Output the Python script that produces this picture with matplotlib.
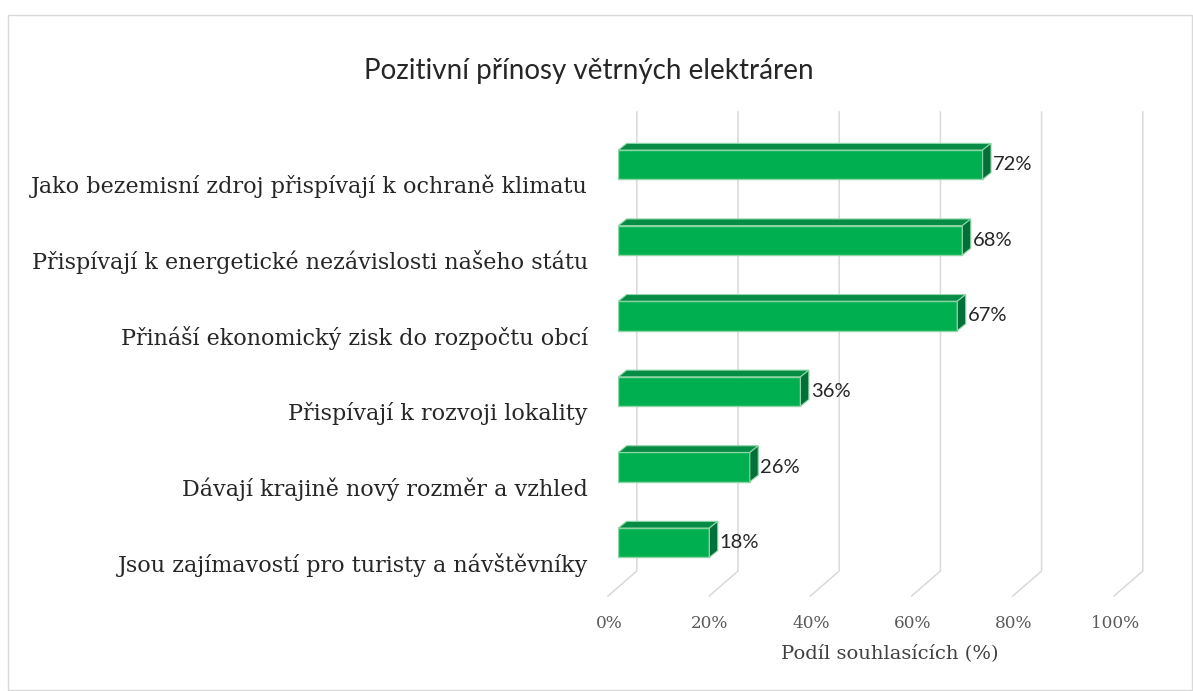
import matplotlib
matplotlib.use("Agg")
import matplotlib.pyplot as plt
from matplotlib.patches import Polygon, Rectangle

# ---------------- data ----------------
categories = [
    "Jako bezemisní zdroj přispívají k ochraně klimatu",
    "Přispívají k energetické nezávislosti našeho státu",
    "Přináší ekonomický zisk do rozpočtu obcí",
    "Přispívají k rozvoji lokality",
    "Dávají krajině nový rozměr a vzhled",
    "Jsou zajímavostí pro turisty a návštěvníky",
]
values = [72, 68, 67, 36, 26, 18]
xticks = [0, 20, 40, 60, 80, 100]
xtick_labels = ["0%", "20%", "40%", "60%", "80%", "100%"]
title = "Pozitivní přínosy větrných elektráren"
xlabel = "Podíl souhlasících (%)"

# ---------------- layout ----------------
W, H, DPI = 1193, 691, 100
fig = plt.figure(figsize=(W / DPI, H / DPI), dpi=DPI)
fig.patch.set_facecolor("white")

# pixel geometry of the front plane of the bars
x0_px, px_per_pct = 618.3, 5.06
row_px = 75.6
top_center_px = 164.7
n = len(categories)
ax_left = x0_px / W
ax_width = 100 * px_per_pct / W
ax_top_px = top_center_px - row_px / 2
ax_height_px = n * row_px
ax = fig.add_axes([ax_left, (H - ax_top_px - ax_height_px) / H, ax_width, ax_height_px / H])
ax.set_xlim(0, 100)
ax.set_ylim(-0.5, n - 0.5)
ax.axis("off")

def dx(px):
    return px / px_per_pct

def dy(px):  # positive px = upward on screen
    return px / row_px

ypos = [n - 1 - i for i in range(n)]

# ---------------- walls / gridlines ----------------
grid_col = "#D9D9D9"
back_top_y = (n - 1) + dy(top_center_px - 112)
back_bot_y = (n - 1) - dy(571 - top_center_px)
front_bot_y = (n - 1) - dy(596 - top_center_px)
for g in xticks:
    xb = g + dx(18.5)
    xf = g + dx(-10.3)
    ax.plot([xb, xb, xf], [back_top_y, back_bot_y, front_bot_y],
            color=grid_col, lw=1.1, clip_on=False, zorder=1, solid_joinstyle="miter")

# ---------------- 3D bars ----------------
front_col = "#00B050"
top_col = "#078C46"
side_col = "#03703A"
edge_col = "#8ED6A6"
bar_h = 29.3 / row_px
ddx, ddy = dx(8.4), dy(6.7)
for y, v in zip(ypos, values):
    yb, yt = y - bar_h / 2, y + bar_h / 2
    ax.barh(y, v, height=bar_h, left=0, color=front_col, edgecolor=edge_col,
            linewidth=1.0, zorder=3)
    top = Polygon([(0, yt), (v, yt), (v + ddx, yt + ddy), (ddx, yt + ddy)],
                  closed=True, facecolor=top_col, edgecolor=edge_col, lw=0.8,
                  zorder=3, clip_on=False)
    side = Polygon([(v, yb), (v, yt), (v + ddx, yt + ddy), (v + ddx, yb + ddy)],
                   closed=True, facecolor=side_col, edgecolor=edge_col, lw=0.8,
                   zorder=3, clip_on=False)
    ax.add_patch(top)
    ax.add_patch(side)
    ax.text(v + ddx + dx(2), y, f"{v}%", ha="left", va="center",
            fontsize=14.5, family=["Lato", "DejaVu Sans"], color="#262626",
            zorder=4, clip_on=False)

# ---------------- category labels ----------------
for y, c in zip(ypos, categories):
    ax.text(dx(588 - x0_px), y - dy(22), c, ha="right", va="center",
            fontsize=16, family=["DejaVu Serif"], color="#262626", clip_on=False)

# ---------------- tick labels ----------------
for g, t in zip(xticks, xtick_labels):
    ax.text(g + dx(-9.5), (n - 1) - dy(623 - top_center_px), t, ha="center",
            va="center", fontsize=12.2, family=["DejaVu Serif"], color="#595959",
            clip_on=False)

# ---------------- titles ----------------
fig.text(588.5 / W, 1 - 71 / H, title, ha="center", va="center", fontsize=20,
         family=["Lato", "DejaVu Sans"], color="#262626")
fig.text(890 / W, 1 - 653 / H, xlabel, ha="center", va="center", fontsize=14,
         family=["DejaVu Serif"], color="#404040")

# ---------------- outer border ----------------
fig.patches.append(Rectangle((8 / W, 1 / H), (W - 9) / W, (H - 16) / H,
                             transform=fig.transFigure, fill=False,
                             edgecolor="#D9D9D9", lw=1.0))

fig.savefig("out.png", dpi=DPI, facecolor="white")
